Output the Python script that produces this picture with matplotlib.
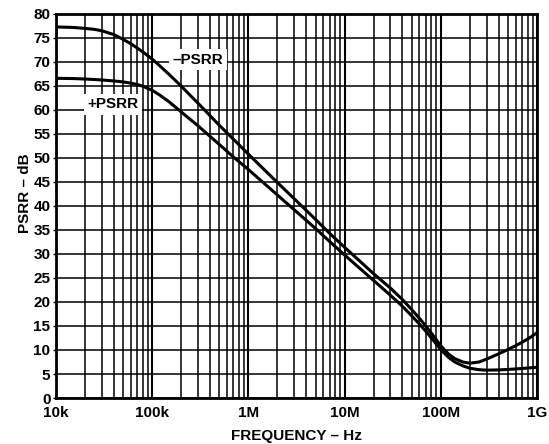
import numpy as np
import matplotlib.pyplot as plt
from matplotlib.ticker import FixedLocator, LogLocator, NullFormatter

plt.rcParams['font.family'] = ['Liberation Sans', 'DejaVu Sans']
plt.rcParams['font.weight'] = 'bold'

# -PSRR and +PSRR vs frequency (Hz, dB)
freq_neg = [1e4, 1.5e4, 2e4, 2.5e4, 3e4, 4e4, 5e4, 6e4, 7e4, 8e4, 1e5, 1.2e5,
            1.5e5, 2e5, 2.5e5, 3e5, 4e5, 5e5, 7e5, 1e6, 2e6, 3e6, 5e6, 7e6,
            1e7, 1.5e7, 2e7, 3e7, 4e7, 5e7, 6e7, 7e7, 8e7, 1e8, 1.2e8, 1.4e8,
            1.7e8, 2e8, 2.5e8, 3e8, 4e8, 5e8, 6e8, 7e8, 8.5e8, 1e9]
psrr_neg = [77.3, 77.2, 77.0, 76.8, 76.5, 75.7, 74.7, 73.8, 72.9, 72.1, 70.6, 69.2,
            67.4, 65.0, 63.0, 61.4, 58.8, 56.8, 53.9, 50.8, 44.9, 41.5, 37.2, 34.3,
            31.4, 28.2, 25.9, 22.9, 20.5, 18.4, 16.6, 15.0, 13.5, 10.9, 9.2, 8.2,
            7.5, 7.25, 7.5, 8.1, 9.2, 10.1, 10.9, 11.6, 12.6, 13.6]

freq_pos = [1e4, 1.5e4, 2e4, 2.5e4, 3e4, 4e4, 5e4, 6e4, 7e4, 8e4, 1e5, 1.2e5,
            1.5e5, 2e5, 2.5e5, 3e5, 4e5, 5e5, 7e5, 1e6, 2e6, 3e6, 5e6, 7e6,
            1e7, 1.5e7, 2e7, 3e7, 4e7, 5e7, 6e7, 7e7, 8e7, 1e8, 1.2e8, 1.4e8,
            1.7e8, 2e8, 2.5e8, 3e8, 4e8, 5e8, 7e8, 1e9]
psrr_pos = [66.6, 66.55, 66.45, 66.35, 66.25, 66.05, 65.85, 65.6, 65.3, 64.95, 64.1, 63.1,
            61.7, 59.6, 58.0, 56.7, 54.5, 52.8, 50.2, 47.6, 42.3, 39.2, 35.3, 32.6,
            29.8, 26.7, 24.5, 21.4, 19.1, 17.1, 15.4, 13.9, 12.5, 10.1, 8.5, 7.5,
            6.7, 6.2, 5.9, 5.8, 5.85, 5.95, 6.15, 6.4]

x_ticks = [1e4, 1e5, 1e6, 1e7, 1e8, 1e9]
x_labels = ['10k', '100k', '1M', '10M', '100M', '1G']
y_ticks = list(range(0, 81, 5))

fig = plt.figure(figsize=(5.49, 4.44), dpi=100)
ax = fig.add_axes([0.102, 0.1036, 0.876, 0.8649])

ax.set_xscale('log')
ax.set_xlim(1e4, 1e9)
ax.set_ylim(0, 80)

ax.xaxis.set_major_locator(FixedLocator(x_ticks))
ax.set_xticklabels(x_labels)
ax.xaxis.set_minor_locator(LogLocator(base=10, subs=np.arange(2, 10)))
ax.xaxis.set_minor_formatter(NullFormatter())
ax.set_yticks(y_ticks)

ax.grid(True, which='major', axis='x', color='black', linewidth=1.5)
ax.grid(True, which='minor', axis='x', color='black', linewidth=1.1)
ax.grid(True, which='major', axis='y', color='black', linewidth=1.1)
ax.set_axisbelow(True)

ax.tick_params(which='both', length=0, labelsize=11)
ax.tick_params(axis='x', pad=6)
ax.tick_params(axis='y', length=2, width=1, pad=2)
for s in ax.spines.values():
    s.set_linewidth(2)

ax.plot(freq_neg, psrr_neg, color='black', linewidth=2.2, zorder=3)
ax.plot(freq_pos, psrr_pos, color='black', linewidth=2.2, zorder=3)

box = dict(facecolor='white', edgecolor='none', pad=2.5)
ax.text(3.0e5, 70.5, '\u2013PSRR', fontsize=11, fontweight='bold',
        ha='center', va='center', bbox=box, zorder=4)
ax.text(3.9e4, 61.2, '+PSRR', fontsize=11, fontweight='bold',
        ha='center', va='center', bbox=box, zorder=4)

ax.set_xlabel('FREQUENCY \u2013 Hz', fontsize=11, fontweight='bold', labelpad=6)
ax.set_ylabel('PSRR \u2013 dB', fontsize=11, fontweight='bold')
ax.yaxis.set_label_coords(-0.05, 0.534)

fig.savefig('out.png', dpi=100)
